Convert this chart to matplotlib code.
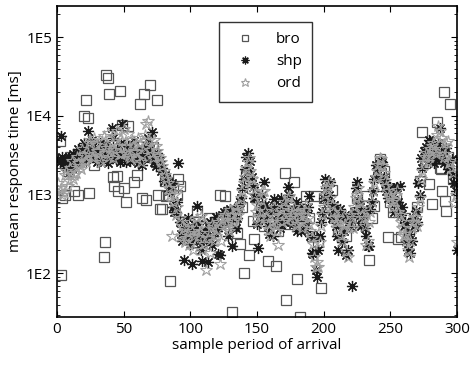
import numpy as np
import matplotlib.pyplot as plt

# sample periods
x_odd = list(range(1, 301, 2))
x_even = list(range(2, 301, 2))

# mean response time [ms], shp (odd periods, then even periods)
shp_a = [2800, 5500, 2600, 2400, 3000, 2200, 2700, 3400, 2500, 3900,
         3200, 6500, 2900, 4200, 3500, 2700, 3600, 3100, 4400, 2800,
         7000, 3300, 3800, 2600, 8000, 3400, 4100, 2700, 3600, 3000,
         2500, 3700, 2900, 4300, 3300, 6200, 2600, 3400, 2700, 2200,
         1800, 1500, 1300, 700, 600, 2500, 320, 150, 380, 300,
         130, 420, 720, 260, 145, 350, 140, 450, 300, 520,
         175, 400, 600, 480, 550, 220, 650, 500, 800, 1200,
         2100, 3400, 2700, 1250, 900, 210, 700, 1450, 500, 320,
         600, 890, 450, 380, 700, 550, 1250, 600, 420, 800,
         500, 350, 450, 600, 970, 180, 290, 90, 300, 600,
         1600, 800, 1450, 600, 400, 200, 500, 350, 170, 450,
         70, 600, 1450, 700, 500, 380, 220, 650, 1100, 2400,
         1850, 2700, 1700, 1100, 1250, 800, 600, 1250, 1300, 700,
         450, 200, 180, 500, 620, 1400, 2950, 3600, 4000, 4900,
         3200, 2500, 3800, 7000, 2900, 3500, 2100, 2600, 1800, 1100]
shp_b = [2600, 3000, 2300, 2900, 2000, 3300, 2500, 3800, 2800, 4500,
         3500, 3000, 5000, 3300, 2600, 4600, 3000, 3800, 2500, 3400,
         5200, 2800, 3500, 4600, 3000, 2600, 3900, 3200, 4800, 2800,
         3500, 2400, 3100, 5200, 3800, 2900, 2300, 3000, 2000, 1500,
         1700, 1100, 1400, 600, 800, 450, 260, 350, 500, 240,
         380, 280, 420, 200, 320, 260, 380, 230, 450, 350,
         170, 550, 420, 300, 650, 480, 380, 700, 900, 1600,
         3000, 2000, 1700, 900, 420, 550, 1000, 750, 400, 650,
         300, 700, 500, 900, 450, 800, 1000, 450, 650, 350,
         700, 550, 380, 700, 300, 175, 110, 200, 450, 900,
         1200, 1000, 500, 750, 300, 650, 250, 550, 200, 400,
         550, 1200, 850, 400, 600, 300, 220, 800, 1600, 2100,
         2300, 2600, 1400, 900, 1250, 950, 1200, 800, 550, 400,
         260, 320, 260, 400, 450, 1000, 2200, 3000, 2700, 4800,
         3800, 2800, 4500, 3300, 2500, 3900, 2200, 2800, 1400, 200]

# mean response time [ms], ord (even periods, then odd periods)
ord_a = [1100, 1000, 1800, 1300, 2200, 1600, 1900, 2500, 2100, 3200,
         2600, 4500, 3000, 5200, 3600, 2800, 4800, 3400, 6000, 3900,
         2900, 5500, 4200, 3300, 6800, 4000, 3100, 5000, 3600, 2800,
         4600, 3200, 5800, 8700, 3700, 2900, 4200, 3100, 2600, 2000,
         1600, 1200, 300, 1000, 700, 500, 400, 250, 330, 450,
         200, 380, 290, 540, 240, 110, 330, 420, 260, 360,
         130, 480, 560, 380, 640, 450, 700, 550, 900, 1400,
         2200, 2900, 1600, 1000, 750, 500, 1100, 620, 420, 300,
         520, 400, 230, 640, 800, 480, 950, 560, 700, 420,
         550, 380, 640, 500, 350, 240, 120, 120, 400, 700,
         1200, 1450, 750, 500, 380, 600, 260, 420, 160, 550,
         380, 900, 1200, 650, 500, 230, 450, 800, 1400, 2000,
         2900, 2300, 1500, 1100, 900, 700, 1000, 600, 450, 300,
         260, 160, 380, 520, 400, 900, 2000, 3000, 2600, 3800,
         4500, 3300, 7500, 5200, 3000, 4600, 2500, 2200, 780, 250]
ord_b = [1400, 1200, 1050, 2000, 1500, 2700, 1800, 3000, 2300, 3800,
         2700, 3300, 5000, 2900, 4300, 3600, 2600, 5600, 3900, 3000,
         4600, 3700, 6400, 3300, 4800, 3400, 5900, 2900, 4200, 3500,
         5300, 2600, 4000, 7800, 5000, 3300, 4900, 3600, 2900, 2300,
         1800, 1400, 1000, 800, 550, 1200, 300, 380, 280, 230,
         350, 300, 500, 330, 200, 420, 280, 180, 390, 300,
         450, 260, 520, 420, 350, 550, 480, 620, 750, 1100,
         1700, 2600, 2000, 1300, 600, 450, 850, 1100, 520, 360,
         450, 700, 350, 550, 450, 700, 900, 500, 620, 400,
         600, 450, 550, 750, 420, 280, 160, 140, 250, 550,
         1000, 1300, 900, 600, 450, 500, 300, 400, 190, 380,
         500, 700, 1000, 800, 550, 400, 260, 600, 1100, 1700,
         2400, 2800, 1900, 1300, 1000, 800, 850, 1150, 550, 380,
         320, 200, 260, 450, 500, 700, 1600, 2600, 3400, 3000,
         4200, 3600, 5800, 6500, 3800, 3300, 4800, 2700, 1900, 1000]

x_shp = x_odd + x_even
shp = shp_a + shp_b
x_ord = x_even + x_odd
ord_ = ord_a + ord_b

# mean response time [ms], bro
x_bro = [1, 2, 3, 4, 6, 8, 10, 13, 16, 18, 20, 22, 23, 24, 26, 28, 30, 32,
         35, 36, 37, 38, 39, 41, 42, 43, 45, 46, 47, 49, 50, 52, 53, 55, 57,
         58, 60, 62, 64, 65, 67, 69, 70, 72, 74, 75, 76, 77, 79, 81, 82, 84,
         85, 87, 90, 91, 92, 94, 97, 100, 103, 105, 108, 111, 114, 117, 120,
         122, 124, 126, 128, 131, 133, 135, 137, 139, 140, 142, 144, 146, 147,
         148, 151, 153, 155, 158, 160, 162, 164, 166, 168, 171, 172, 174, 176,
         178, 180, 182, 184, 187, 189, 191, 194, 196, 198, 200, 203, 206, 208,
         211, 214, 217, 220, 222, 224, 225, 228, 230, 232, 234, 236, 238, 240,
         242, 243, 245, 248, 250, 252, 254, 256, 258, 261, 264, 267, 270, 272,
         274, 276, 279, 281, 283, 285, 287, 288, 289, 290, 291, 292, 293, 295,
         297, 299]
bro = [2500, 4800, 95, 900, 1000, 2000, 3000, 1100, 1000, 2600, 10000, 16000,
       9500, 1050, 3500, 2400, 4000, 3000, 160, 250, 33000, 30000, 19000,
       3500, 1700, 1300, 1750, 1100, 21000, 7700, 1200, 800, 7500, 3000, 4000,
       1450, 1800, 14000, 900, 19000, 850, 3000, 25000, 4000, 2600, 16000,
       1000, 650, 650, 1500, 970, 1000, 80, 1200, 1000, 1600, 1300, 450, 300,
       350, 250, 600, 400, 300, 500, 350, 450, 1000, 500, 970, 600, 32, 400,
       330, 240, 700, 100, 1800, 170, 1200, 470, 270, 500, 700, 400, 145, 450,
       600, 125, 350, 500, 1900, 46, 430, 600, 1450, 86, 28, 400, 950, 500,
       300, 950, 250, 66, 900, 600, 1150, 500, 350, 450, 300, 400, 450, 610,
       920, 500, 600, 950, 150, 500, 720, 1300, 2800, 1900, 2000, 290, 800,
       600, 900, 270, 290, 500, 350, 400, 700, 1500, 6200, 2500, 1350, 770,
       3000, 8400, 2200, 2100, 1100, 20000, 840, 620, 3000, 14000, 1600, 1500]

plt.rcParams['font.family'] = ['Open Sans', 'DejaVu Sans']

fig = plt.figure(figsize=(4.71, 3.69), dpi=100)
ax = fig.add_axes([0.121, 0.141, 0.849, 0.843])

ax.plot(x_bro, bro, linestyle='none', marker='s', markersize=7,
        markerfacecolor='none', markeredgecolor='#555555', markeredgewidth=0.9, label='bro')
ax.plot(x_shp, shp, linestyle='none', marker=(8, 2, 0), markersize=8,
        markeredgecolor='#1a1a1a', markeredgewidth=0.9, label='shp')
ax.plot(x_ord, ord_, linestyle='none', marker='*', markersize=9,
        markerfacecolor='none', markeredgecolor='#a0a0a0', markeredgewidth=0.8, label='ord')

ax.set_yscale('log')
ax.set_xlim(0, 300)
ax.set_ylim(28, 2.5e5)
ax.set_yticks([1e2, 1e3, 1e4, 1e5])
ax.set_yticklabels(['1E2', '1E3', '1E4', '1E5'])
ax.set_xticks([0, 50, 100, 150, 200, 250, 300])
ax.tick_params(which='both', direction='in', top=True, right=True, labelsize=11)
ax.tick_params(which='major', length=4)
ax.tick_params(which='minor', length=2)
for s in ax.spines.values():
    s.set_linewidth(1.2)

ax.set_xlabel('sample period of arrival', fontsize=11, labelpad=1)
ax.set_ylabel('mean response time [ms]', fontsize=11, labelpad=2)

leg = ax.legend(loc='upper center', bbox_to_anchor=(0.5225, 0.949), fontsize=11,
                markerscale=0.7, frameon=True, fancybox=False, edgecolor='black',
                handlelength=2.0, borderpad=0.7, labelspacing=0.45, handletextpad=1.0,
                borderaxespad=0)
leg.get_frame().set_linewidth(1.0)

fig.savefig('out.png', dpi=100)
